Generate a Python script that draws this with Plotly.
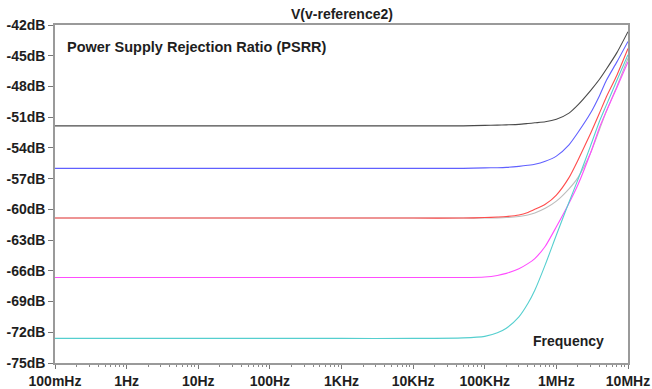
import plotly.graph_objects as go

# Frequency sweep points (Hz) and PSRR curves (dB) for each supply condition
freq_hz = [0.1, 1e3, 1e4, 5e4, 1e5, 1.5e5, 2e5, 3e5, 4e5, 5e5, 7e5, 1e6, 1.5e6, 2e6, 3e6, 4e6, 5e6, 7e6, 1e7]

psrr_black = [-51.85, -51.85, -51.85, -51.85, -51.8, -51.78, -51.75, -51.7, -51.62, -51.55, -51.45, -51.2, -50.6, -49.8, -48.4, -47.3, -46.3, -44.7, -42.65]
psrr_blue = [-56.0, -56.0, -56.0, -56.0, -55.95, -55.93, -55.9, -55.8, -55.7, -55.6, -55.3, -54.8, -53.7, -52.5, -50.6, -48.9, -47.4, -45.6, -43.6]
psrr_gray = [-60.85, -60.85, -60.85, -60.85, -60.85, -60.83, -60.8, -60.7, -60.55, -60.35, -59.9, -59.2, -58.0, -56.9, -54.5, -52.2, -50.4, -48.0, -45.25]
psrr_red = [-60.85, -60.85, -60.85, -60.85, -60.8, -60.75, -60.7, -60.55, -60.3, -60.0, -59.5, -58.6, -56.9, -55.2, -52.6, -50.6, -49.0, -46.9, -44.3]
psrr_magenta = [-66.65, -66.65, -66.65, -66.65, -66.6, -66.45, -66.25, -65.8, -65.3, -64.8, -63.6, -61.7, -59.4, -57.6, -54.5, -52.0, -50.4, -48.1, -45.6]
psrr_cyan = [-72.6, -72.6, -72.6, -72.55, -72.4, -72.05, -71.6, -70.5, -69.2, -67.9, -65.4, -62.5, -59.3, -57.1, -53.8, -51.4, -49.8, -47.4, -44.9]

x_tickvals = [0.1, 1, 10, 100, 1e3, 1e4, 1e5, 1e6, 1e7]
x_ticktext = ["100mHz", "1Hz", "10Hz", "100Hz", "1KHz", "10KHz", "100KHz", "1MHz", "10MHz"]
y_tickvals = [-42, -45, -48, -51, -54, -57, -60, -63, -66, -69, -72, -75]
y_ticktext = [f"{v}dB" for v in y_tickvals]

series = [
    (psrr_black, "#4a4a4a"),
    (psrr_blue, "#6060ff"),
    (psrr_gray, "#bcbcbc"),
    (psrr_red, "#ff4c4c"),
    (psrr_magenta, "#ff4cff"),
    (psrr_cyan, "#55cfcf"),
]

fig = go.Figure()
for values, color in series:
    fig.add_trace(go.Scatter(
        x=freq_hz, y=values, mode="lines",
        line=dict(color=color, width=1.1, shape="spline", smoothing=0.6),
        showlegend=False, hoverinfo="skip",
    ))

FAMILY = "Liberation Sans, Arial, sans-serif"
TEXT = "#1e1e1e"
frame_color = "#9a9a9a"

fig.update_layout(
    width=652, height=389,
    margin=dict(l=55, r=24, t=25, b=26),
    paper_bgcolor="white", plot_bgcolor="white",
    font=dict(family=FAMILY, size=14, color=TEXT),
    xaxis=dict(
        type="log", range=[-1, 7], automargin=False,
        tickvals=x_tickvals, ticktext=[f"<b>{t}</b>" for t in x_ticktext],
        ticks="outside", ticklen=4, tickwidth=1, tickcolor="#777777",
        minor=dict(ticks="outside", ticklen=2, tickwidth=1, tickcolor="#888888",
                   dtick="D1", showgrid=False),
        showgrid=False, zeroline=False,
        showline=True, linecolor=frame_color, linewidth=1.5, mirror=True,
        tickfont=dict(family=FAMILY, size=14, color=TEXT),
    ),
    yaxis=dict(
        range=[-75, -42], automargin=False,
        tickvals=y_tickvals, ticktext=[f"<b>{t}</b>" for t in y_ticktext],
        ticks="outside", ticklen=5, tickwidth=1, tickcolor="#777777",
        showgrid=False, zeroline=False,
        showline=True, linecolor=frame_color, linewidth=1.5, mirror=True,
        tickfont=dict(family=FAMILY, size=14, color=TEXT),
    ),
)

fig.add_annotation(
    text="<b>V(v-reference2)</b>", xref="paper", yref="paper",
    x=0.5, y=1, yanchor="bottom", yshift=1, showarrow=False,
    font=dict(family=FAMILY, size=14, color=TEXT),
)
fig.add_annotation(
    text="<b>Power Supply Rejection Ratio (PSRR)</b>", xref="paper", yref="paper",
    x=0.018, y=0.935, xanchor="left", yanchor="middle", showarrow=False,
    font=dict(family=FAMILY, size=14.5, color=TEXT),
)
fig.add_annotation(
    text="<b>Frequency</b>", xref="paper", yref="paper",
    x=0.962, y=0.065, xanchor="right", yanchor="middle", showarrow=False,
    font=dict(family=FAMILY, size=14, color=TEXT),
)

fig.write_html("out.html")
